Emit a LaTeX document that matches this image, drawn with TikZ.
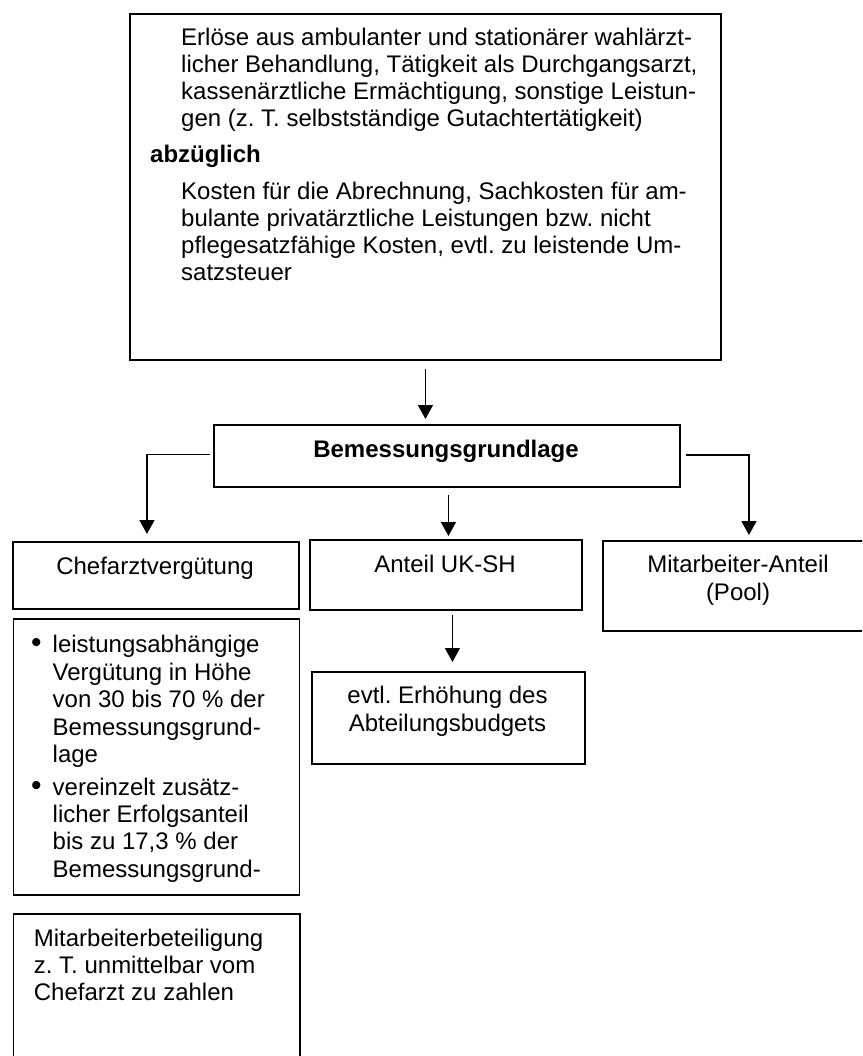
\documentclass[tikz,border=0pt]{standalone}
\usepackage{fontspec}
\setmainfont{Liberation Sans}
\usetikzlibrary{arrows.meta}
\begin{document}
\frenchspacing
\begin{tikzpicture}[x=1pt,y=-1pt,
  box/.style={draw, line width=1.9pt, inner sep=0pt, anchor=north west},
  txt/.style={inner sep=0pt, anchor=base west, align=left, font=\fontsize{24}{#1}\selectfont},
  txt/.default=27,
  ctxt/.style={inner sep=0pt, anchor=base, align=center, font=\fontsize{24}{#1}\selectfont},
  ctxt/.default=28,
  arr/.style={line width=1.4pt, -{Triangle[width=15pt,length=14pt]}}
]
\useasboundingbox (0,0) rectangle (862,1056);
\begin{scope}
\clip (0,0) rectangle (862,1056);
% boxes
\node[box, minimum width=591pt, minimum height=346pt] (top) at (129,13) {};
\node[box, minimum width=466pt, minimum height=62pt] (bem) at (213,424) {};
\node[box, minimum width=286pt, minimum height=67pt] (chef) at (12,541) {};
\node[box, minimum width=272pt, minimum height=70pt] (ant) at (309,539) {};
\node[box, minimum width=273pt, minimum height=90pt] (mit) at (602,540) {};
\node[box, minimum width=286pt, minimum height=276pt] (list) at (12.5,618) {};
\node[box, minimum width=273pt, minimum height=92pt] (ev) at (311,671) {};
\node[box, minimum width=286.5pt, minimum height=200pt] (mb) at (12.5,913) {};
\end{scope}
% texts (base anchor = baseline of the last line)
\node[txt=27] (t1) at (181,127) {Erlöse aus ambulanter und stationärer wahlärzt-\\licher Behandlung, Tätigkeit als Durchgangsarzt,\\kassenärztliche Ermächtigung, sonstige Leistun-\\gen (z. T. selbstständige Gutachtertätigkeit)};
\node[txt, font=\fontsize{24}{27}\selectfont\bfseries] (t2) at (150,163) {abzüglich};
\node[txt=27] (t3) at (181,280) {Kosten für die Abrechnung, Sachkosten für am-\\bulante privatärztliche Leistungen bzw. nicht\\pflegesatzfähige Kosten, evtl. zu leistende Um-\\satzsteuer};
\node[ctxt, font=\fontsize{24}{27}\selectfont\bfseries] (t4) at (446,457) {Bemessungsgrundlage};
\node[ctxt] (t5) at (155,574) {Chefarztvergütung};
\node[ctxt] (t6) at (445,572) {Anteil UK-SH};
\node[ctxt=28] (t7) at (738,600) {Mitarbeiter-Anteil\\(Pool)};
\node[txt] (b1) at (31,652.7) {\fontsize{30}{30}\selectfont•};
\node[txt=27.5] (t8) at (52.5,762.7) {leistungsabhängige\\Vergütung in Höhe\\von 30 bis 70 \% der\\Bemessungsgrund-\\lage};
\node[txt] (b2) at (31,795) {\fontsize{30}{30}\selectfont•};
\node[txt=27.3] (t9) at (52.5,877) {vereinzelt zusätz-\\licher Erfolgsanteil\\bis zu 17,3 \% der\\Bemessungsgrund-};
\node[ctxt=28] (t10) at (447.5,731) {evtl. Erhöhung des\\Abteilungsbudgets};
\node[txt=26.7] (t11) at (33.7,1000) {Mitarbeiterbeteiligung\\z. T. unmittelbar vom\\Chefarzt zu zahlen};
% connectors
\draw[arr, shorten <=8pt, shorten >=5pt] (top.south) -- (top.south |- bem.north);
\draw[arr, shorten >=7pt] ([xshift=-3pt,yshift=1.5pt]bem.west) -| ([xshift=-9pt]chef.north);
\draw[arr, shorten >=5pt] ([xshift=5pt,yshift=1pt]bem.east) -| ([xshift=9.5pt]mit.north);
\draw[arr, shorten <=7pt, shorten >=3pt] ([xshift=1.5pt]bem.south) -- ([xshift=1.5pt]bem.south |- ant.north);
\draw[arr, shorten <=4pt, shorten >=9pt] ([xshift=6.5pt]ant.south) -- ([xshift=6.5pt]ant.south |- ev.north);
\end{tikzpicture}
\end{document}
